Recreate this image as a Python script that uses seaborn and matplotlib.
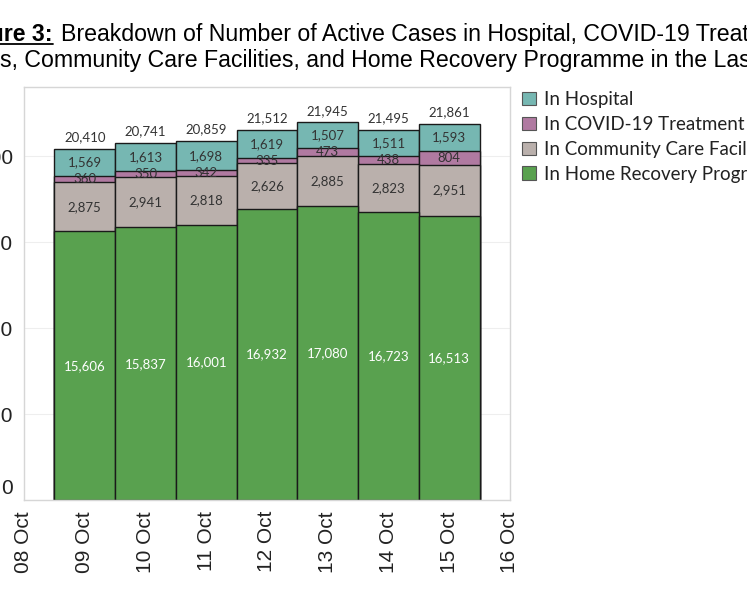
import matplotlib
matplotlib.use("Agg")
import matplotlib.pyplot as plt
import matplotlib.transforms as mtransforms
from matplotlib.patches import Patch
from matplotlib.lines import Line2D
import seaborn as sns

# data
days = ["09 Oct", "10 Oct", "11 Oct", "12 Oct", "13 Oct", "14 Oct", "15 Oct"]
axis_days = ["08 Oct"] + days + ["16 Oct"]
home = [15606, 15837, 16001, 16932, 17080, 16723, 16513]
ccf = [2875, 2941, 2818, 2626, 2885, 2823, 2951]
ctf = [360, 350, 342, 335, 473, 438, 804]
hospital = [1569, 1613, 1698, 1619, 1507, 1511, 1593]
series_names = ["In Hospital", "In COVID-19 Treatment Facilities",
                "In Community Care Facilities", "In Home Recovery Programme"]
colors = ["#76b7b2", "#b07aa1", "#bab0ac", "#59a14f"]
y_ticks = [0, 5000, 10000, 15000, 20000]

sns.set_theme(style="white")
plt.rcParams['font.family'] = ['Liberation Sans', 'DejaVu Sans']

fig = plt.figure(figsize=(7.47, 5.98), dpi=100)
W, H = 747, 598
ax = fig.add_axes([24 / W, 1 - 500 / H, (510 - 24) / W, (500 - 87) / H])

# stacked bars: draw cumulative totals from the top layer down
lvl_home = home
lvl_ccf = [a + b for a, b in zip(lvl_home, ccf)]
lvl_ctf = [a + b for a, b in zip(lvl_ccf, ctf)]
totals = [a + b for a, b in zip(lvl_ctf, hospital)]
for vals, c in zip([totals, lvl_ctf, lvl_ccf, lvl_home], colors):
    sns.barplot(x=days, y=vals, color=c, width=1.0, saturation=1,
                edgecolor="#1a1a1a", linewidth=1.0, errorbar=None, ax=ax)

# segment labels
lab_font = dict(family=["Lato", "DejaVu Sans"], fontsize=9.5, ha="center", va="center")
for i in range(len(days)):
    ax.text(i, home[i] / 2, f"{home[i]:,}", color="white", **lab_font)
    ax.text(i, lvl_home[i] + ccf[i] / 2, f"{ccf[i]:,}", color="#333333", **lab_font)
    ax.text(i, lvl_ccf[i] + ctf[i] / 2, f"{ctf[i]:,}", color="#333333", **lab_font)
    ax.text(i, lvl_ctf[i] + hospital[i] / 2, f"{hospital[i]:,}", color="#333333", **lab_font)
    ax.text(i, totals[i] + 330, f"{totals[i]:,}", color="#333333",
            family=["Lato", "DejaVu Sans"], fontsize=9.5, ha="center", va="bottom")

ax.set_xlim(-1, len(days))
ax.set_xticks(range(-1, len(days) + 1))
ax.set_xticklabels(axis_days, rotation=90, fontsize=15, color="#222222")
ax.set_ylim(0, 24000)
ax.set_yticks(y_ticks)
ax.set_yticklabels([f"{v:,}" for v in y_ticks], fontsize=15, color="#222222")
ax.set_xlabel("")
ax.set_ylabel("")
ax.tick_params(axis="both", direction="out", length=6, width=1, color="#999999", pad=2)
ax.yaxis.grid(True, color="#eeeeee", linewidth=0.8)
ax.set_axisbelow(True)
for s in ax.spines.values():
    s.set_color("#d6d6d6")
    s.set_linewidth(1)

# the "0" label sits a little above its tick, as in the original
zero_lab = ax.get_yticklabels()[0]
zero_lab.set_transform(zero_lab.get_transform() +
                       mtransforms.ScaledTranslation(0, 13 / 100, fig.dpi_scale_trans))
ax.yaxis.get_major_ticks()[0].tick1line.set_visible(False)

# legend, cut off by the right edge
handles = [Patch(facecolor=c, edgecolor="#555555", linewidth=0.8) for c in colors]
fig.legend(handles, series_names, loc="upper left", bbox_to_anchor=(522 / W, 1 - 91 / H),
           frameon=False, prop={"family": ["Lato", "DejaVu Sans"], "size": 13.5},
           handlelength=0.72, handleheight=0.72, handletextpad=0.45, labelspacing=0.42,
           borderpad=0, borderaxespad=0, labelcolor="#222222")

# title, cut off on both sides
ts = 16.7
fig.text(53 / W, 1 - 40.7 / H, "Figure 3:", fontsize=ts, fontweight="bold",
         ha="right", va="baseline", color="black")
fig.add_artist(Line2D([-40 / W, 53 / W], [1 - 43.5 / H, 1 - 43.5 / H],
                      color="black", linewidth=1.3))
fig.text(61 / W, 1 - 40.7 / H,
         "Breakdown of Number of Active Cases in Hospital, COVID-19 Treatment",
         fontsize=ts, ha="left", va="baseline", color="black")
fig.text(0.5 / W, 1 - 67 / H, "Facilitie", fontsize=ts, ha="right", va="baseline")
fig.text(0.5 / W, 1 - 67 / H,
         "s, Community Care Facilities, and Home Recovery Programme in the Last 7 Days",
         fontsize=ts, ha="left", va="baseline", color="black")

fig.savefig("out.png", dpi=100)
